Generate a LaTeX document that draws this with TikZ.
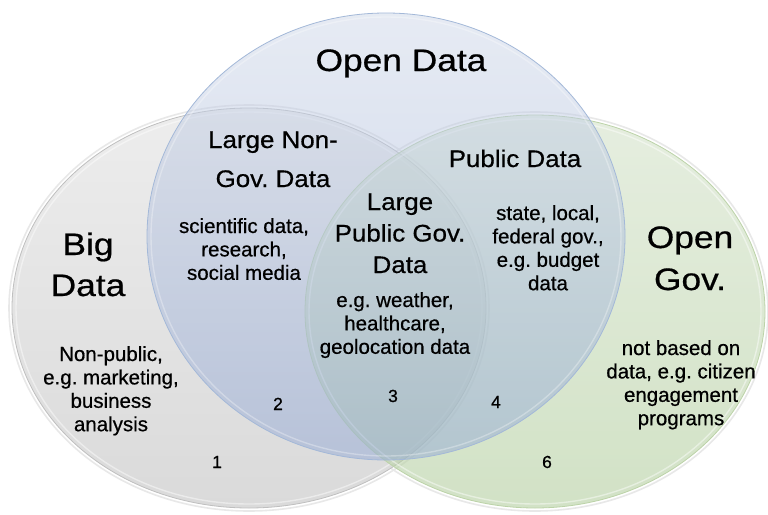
\documentclass[tikz,border=0pt]{standalone}
\usepackage{fontspec}
\setmainfont[FakeBold=0.6]{Liberation Sans}
\newfontfamily\titlefont[FakeStretch=1.14,FakeBold=0.6]{Liberation Sans}
\newfontfamily\midfont[FakeStretch=1.08,FakeBold=0.6]{Liberation Sans}
\newcommand{\blk}[1]{\begin{tabular}[t]{@{}c@{}}#1\end{tabular}}
\definecolor{greyA}{HTML}{EDEDED}
\definecolor{greyB}{HTML}{DADADA}
\definecolor{greyE}{HTML}{BFBFBF}
\definecolor{blueA}{HTML}{CFD8E9}
\definecolor{blueB}{HTML}{93A9D6}
\definecolor{blueE}{HTML}{A3B8D8}
\definecolor{greenA}{HTML}{D5E3CB}
\definecolor{greenB}{HTML}{B4CFA0}
\definecolor{greenE}{HTML}{BCD3A8}
\begin{document}
\frenchspacing
\begin{tikzpicture}[x=1pt,y=-1pt,
  titletxt/.style={font=\frenchspacing\titlefont\fontsize{31}{41}\selectfont, anchor=base, inner sep=0pt},
  midtxt/.style={font=\frenchspacing\midfont\fontsize{24}{39}\selectfont, anchor=base, inner sep=0pt},
  smalltxt/.style={font=\frenchspacing\fontsize{20.5}{23.4}\selectfont, anchor=base, inner sep=0pt},
  numtxt/.style={font=\fontsize{17.5}{20}\selectfont, anchor=base, inner sep=0pt},
  halo/.style={draw=black!9, line width=1.6pt},
  shine/.style={draw=white, draw opacity=0.45, line width=1.4pt}]
\useasboundingbox (0,0) rectangle (768,514);
\fill[white] (0,0) rectangle (768,514);
% outer halos
\draw[halo] (249,308) ellipse [x radius=240, y radius=203];
\draw[halo] (535,311.5) ellipse [x radius=233, y radius=199.5];
% grey ellipse (Big Data)
\shade[top color=greyA, bottom color=greyB] (249,308) ellipse [x radius=237, y radius=200];
\draw[shine] (249,308) ellipse [x radius=233, y radius=196];
\draw[greyE, line width=0.8pt] (249,308) ellipse [x radius=237, y radius=200];
% green ellipse (Open Gov.)
\shade[top color=greenA, bottom color=greenB, fill opacity=0.6] (535,311.5) ellipse [x radius=230, y radius=196.5];
\draw[shine] (535,311.5) ellipse [x radius=226, y radius=192.5];
\draw[greenE, line width=0.8pt] (535,311.5) ellipse [x radius=230, y radius=196.5];
% blue ellipse (Open Data)
\shade[top color=blueA, bottom color=blueB, fill opacity=0.5] (386,236.5) ellipse [x radius=239, y radius=223.5];
\draw[shine, draw opacity=0.3] (386,236.5) ellipse [x radius=235, y radius=219.5];
\draw[blueE, line width=0.8pt] (386,236.5) ellipse [x radius=239, y radius=223.5];
% titles
\node[titletxt] (opendata) at (401,71) {Open Data};
\node[titletxt] (bigdata) at (88,255) {\blk{Big\\Data}};
\node[titletxt, font=\titlefont\fontsize{31}{42}\selectfont] (opengov) at (690,248) {\blk{Open\\Gov.}};
% region headings
\node[midtxt] (nongov) at (273,148) {\blk{Large Non-\\Gov. Data}};
\node[midtxt] (public) at (515,167) {Public Data};
\node[midtxt, font=\frenchspacing\midfont\fontsize{24}{31.5}\selectfont] (lpg) at (400,210) {\blk{Large\\Public Gov.\\Data}};
% descriptions
\node[smalltxt] (sci) at (244,233) {\blk{scientific data,\\research,\\social media}};
\node[smalltxt] (nonpub) at (111,361) {\blk{Non-public,\\e.g. marketing,\\business\\analysis}};
\node[smalltxt] (weather) at (395,307) {\blk{e.g. weather,\\healthcare,\\geolocation data}};
\node[smalltxt] (state) at (548,220) {\blk{state, local,\\federal gov.,\\e.g. budget\\data}};
\node[smalltxt] (notbased) at (681,355) {\blk{not based on\\data, e.g. citizen\\engagement\\programs}};
% region numbers
\node[numtxt] (n1) at (217,468) {1};
\node[numtxt] (n2) at (278,410) {2};
\node[numtxt] (n3) at (393,402) {3};
\node[numtxt] (n4) at (496,408) {4};
\node[numtxt] (n6) at (547,468) {6};
\end{tikzpicture}
\end{document}
